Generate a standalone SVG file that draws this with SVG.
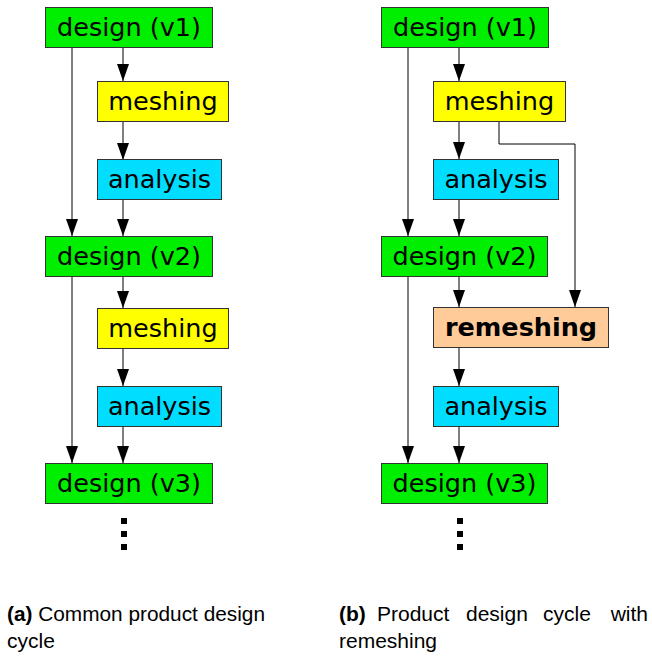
<svg xmlns="http://www.w3.org/2000/svg" width="652" height="657" viewBox="0 0 652 657">
<defs>
<marker id="ah" markerWidth="17" markerHeight="12" refX="17" refY="6" orient="auto" markerUnits="userSpaceOnUse" viewBox="0 0 17 12">
<path d="M0,0 L17,6 L0,12 Z" fill="#000"/>
</marker>
<style>
.box{stroke:#333;stroke-width:1}
.design{fill:#00ee00}
.mesh{fill:#ffff00}
.ana{fill:#00ddff}
.remesh{fill:#ffcc99}
.lbl{font-family:"DejaVu Sans",sans-serif;font-size:25.5px;fill:#000;text-anchor:middle}
.conn{stroke:#000;stroke-width:1;fill:none}
.cap{font-family:"Liberation Sans",sans-serif;font-size:21px;fill:#000}
</style>
</defs>
<rect width="652" height="657" fill="#fff"/>
<g id="connectors">
<line class="conn" x1="72" y1="47" x2="72" y2="236" marker-end="url(#ah)"/>
<line class="conn" x1="123" y1="47" x2="123" y2="81" marker-end="url(#ah)"/>
<line class="conn" x1="123" y1="121" x2="123" y2="160" marker-end="url(#ah)"/>
<line class="conn" x1="123" y1="199" x2="123" y2="236" marker-end="url(#ah)"/>
<line class="conn" x1="72" y1="276" x2="72" y2="463" marker-end="url(#ah)"/>
<line class="conn" x1="123" y1="276" x2="123" y2="308" marker-end="url(#ah)"/>
<line class="conn" x1="123" y1="348" x2="123" y2="386" marker-end="url(#ah)"/>
<line class="conn" x1="123" y1="426" x2="123" y2="463" marker-end="url(#ah)"/>
<line class="conn" x1="408" y1="47" x2="408" y2="236" marker-end="url(#ah)"/>
<line class="conn" x1="459" y1="47" x2="459" y2="81" marker-end="url(#ah)"/>
<line class="conn" x1="459" y1="122" x2="459" y2="159" marker-end="url(#ah)"/>
<line class="conn" x1="459" y1="199" x2="459" y2="236" marker-end="url(#ah)"/>
<polyline class="conn" points="499,122 499,144 575,144 575,307" marker-end="url(#ah)"/>
<line class="conn" x1="408" y1="277" x2="408" y2="463" marker-end="url(#ah)"/>
<line class="conn" x1="459" y1="277" x2="459" y2="307" marker-end="url(#ah)"/>
<line class="conn" x1="459" y1="348" x2="459" y2="386" marker-end="url(#ah)"/>
<line class="conn" x1="459" y1="426" x2="459" y2="463" marker-end="url(#ah)"/>
</g>
<g id="a_design_v1"><rect class="box design" x="45.5" y="7.5" width="167" height="40"/><text class="lbl" x="129" y="36">design (v1)</text></g>
<g id="a_meshing_1"><rect class="box mesh" x="97.5" y="81.5" width="131" height="40"/><text class="lbl" x="163" y="110">meshing</text></g>
<g id="a_analysis_1"><rect class="box ana" x="97.5" y="159.5" width="124" height="40"/><text class="lbl" x="159.5" y="188">analysis</text></g>
<g id="a_design_v2"><rect class="box design" x="45.5" y="236.5" width="167" height="40"/><text class="lbl" x="129" y="265">design (v2)</text></g>
<g id="a_meshing_2"><rect class="box mesh" x="97.5" y="308.5" width="131" height="40"/><text class="lbl" x="163" y="337">meshing</text></g>
<g id="a_analysis_2"><rect class="box ana" x="97.5" y="386.5" width="124" height="40"/><text class="lbl" x="159.5" y="415">analysis</text></g>
<g id="a_design_v3"><rect class="box design" x="45.5" y="463.5" width="167" height="40"/><text class="lbl" x="129" y="492">design (v3)</text></g>
<g id="a_dots"><rect x="121" y="518" width="6" height="6"/><rect x="121" y="531" width="6" height="6"/><rect x="121" y="544" width="6" height="6"/></g>

<g id="b_design_v1"><rect class="box design" x="381.5" y="7.5" width="167" height="40"/><text class="lbl" x="465" y="36">design (v1)</text></g>
<g id="b_meshing"><rect class="box mesh" x="433.5" y="81.5" width="132" height="40"/><text class="lbl" x="499.5" y="110">meshing</text></g>
<g id="b_analysis_1"><rect class="box ana" x="433.5" y="159.5" width="125" height="40"/><text class="lbl" x="496" y="188">analysis</text></g>
<g id="b_design_v2"><rect class="box design" x="381.5" y="236.5" width="166" height="40"/><text class="lbl" x="464.5" y="265">design (v2)</text></g>
<g id="b_remeshing"><rect class="box remesh" x="433.5" y="307.5" width="175" height="40"/><text class="lbl" x="521" y="336" font-weight="bold">remeshing</text></g>
<g id="b_analysis_2"><rect class="box ana" x="433.5" y="386.5" width="125" height="40"/><text class="lbl" x="496" y="415">analysis</text></g>
<g id="b_design_v3"><rect class="box design" x="381.5" y="463.5" width="166" height="40"/><text class="lbl" x="464.5" y="492">design (v3)</text></g>
<g id="b_dots"><rect x="457" y="518" width="6" height="6"/><rect x="457" y="531" width="6" height="6"/><rect x="457" y="544" width="6" height="6"/></g>

<g id="captions">
<text class="cap" x="7" y="621" textLength="258" lengthAdjust="spacingAndGlyphs"><tspan font-weight="bold">(a)</tspan> Common product design</text>
<text class="cap" x="7" y="648">cycle</text>
<text class="cap" x="339" y="621" font-weight="bold">(b)</text>
<text class="cap" x="377" y="621">Product</text>
<text class="cap" x="466" y="621">design</text>
<text class="cap" x="543" y="621">cycle</text>
<text class="cap" x="648" y="621" text-anchor="end">with</text>
<text class="cap" x="339" y="648">remeshing</text>
</g>
</svg>
